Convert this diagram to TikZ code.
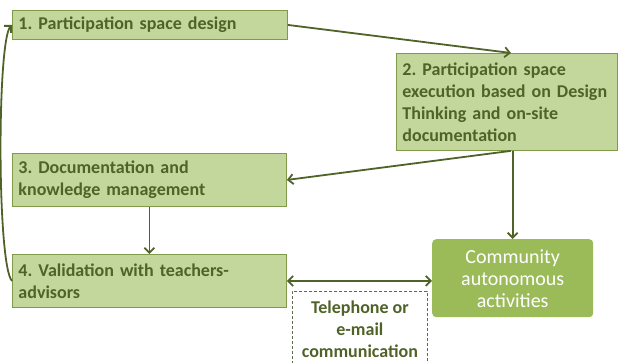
\documentclass[tikz,border=0pt]{standalone}
\usepackage{fontspec}
\setmainfont{Carlito}
\frenchspacing
\usetikzlibrary{arrows.meta}
\definecolor{boxfill}{HTML}{C3D69B}
\definecolor{boxline}{HTML}{7F9A48}
\definecolor{textgreen}{HTML}{4F6228}
\definecolor{accent}{HTML}{9BBB59}
\definecolor{dashline}{HTML}{5E6A4C}
\begin{document}
\begin{tikzpicture}[x=1pt,y=-1pt,
  stepbox/.style={draw=boxline, line width=0.9pt, fill=boxfill, anchor=north west,
    inner xsep=6pt, inner ysep=0pt, align=left, text=textgreen,
    font=\fontsize{18}{22}\selectfont\bfseries},
  communitybox/.style={fill=accent, rounded corners=4pt, anchor=north west,
    inner sep=0pt, align=center, text=white,
    font=\fontsize{20}{22}\selectfont},
  notebox/.style={draw=dashline, line width=0.8pt, dash pattern=on 3pt off 2pt,
    anchor=north west, inner sep=0pt, align=center, text=textgreen,
    font=\fontsize{18}{22}\selectfont\bfseries},
  tip/.style={Straight Barb[length=5pt,width=10pt,line width=1.8pt]},
  flow/.style={draw=textgreen, line width=1.8pt, -{Straight Barb[length=5pt,width=10pt]}},
  twoway/.style={draw=textgreen, line width=1.8pt,
    {Straight Barb[length=5pt,width=10pt]}-{Straight Barb[length=5pt,width=10pt]}}
]
\useasboundingbox (0,0) rectangle (618,363);
\clip (0,0) rectangle (618,363);

% process steps
\node[stepbox, text width=263pt, minimum height=29pt] (b1) at (12,10)
  {1. Participation space design};
\node[stepbox, text width=209pt, minimum height=97pt] (b2) at (396,53)
  {2. Participation space\\execution based on Design\\Thinking and on-site\\documentation};
\node[stepbox, text width=262pt, minimum height=53pt] (b3) at (12,153)
  {3. Documentation and\\knowledge management};
\node[stepbox, text width=262pt, minimum height=53pt] (b4) at (12,254)
  {4. Validation with teachers-\\advisors};

% community activities
\node[communitybox, minimum width=161pt, minimum height=78pt] (comm) at (432,239)
  {Community\\autonomous\\activities};

% communication channel note (runs past the lower edge)
\node[notebox, minimum width=135pt, minimum height=75pt] (note) at (292,291)
  {Telephone or\\e-mail\\communication};

% connectors
\coordinate (b2out) at (b2.south -| comm.north);
\draw[flow] (b1.east) -- ([xshift=4pt]b2.north);
\draw[flow] ([xshift=-2pt]b2out) -- (b3.east);
\draw[flow] (b2out) -- (comm.north);
\draw[flow] (b3.south) -- (b4.north);
\draw[twoway] (b4.east) -- (b4.east -| comm.west);
\draw[flow] (b4.west) .. controls (-3,265) and (-3,40) .. (b1.west);
\end{tikzpicture}
\end{document}
